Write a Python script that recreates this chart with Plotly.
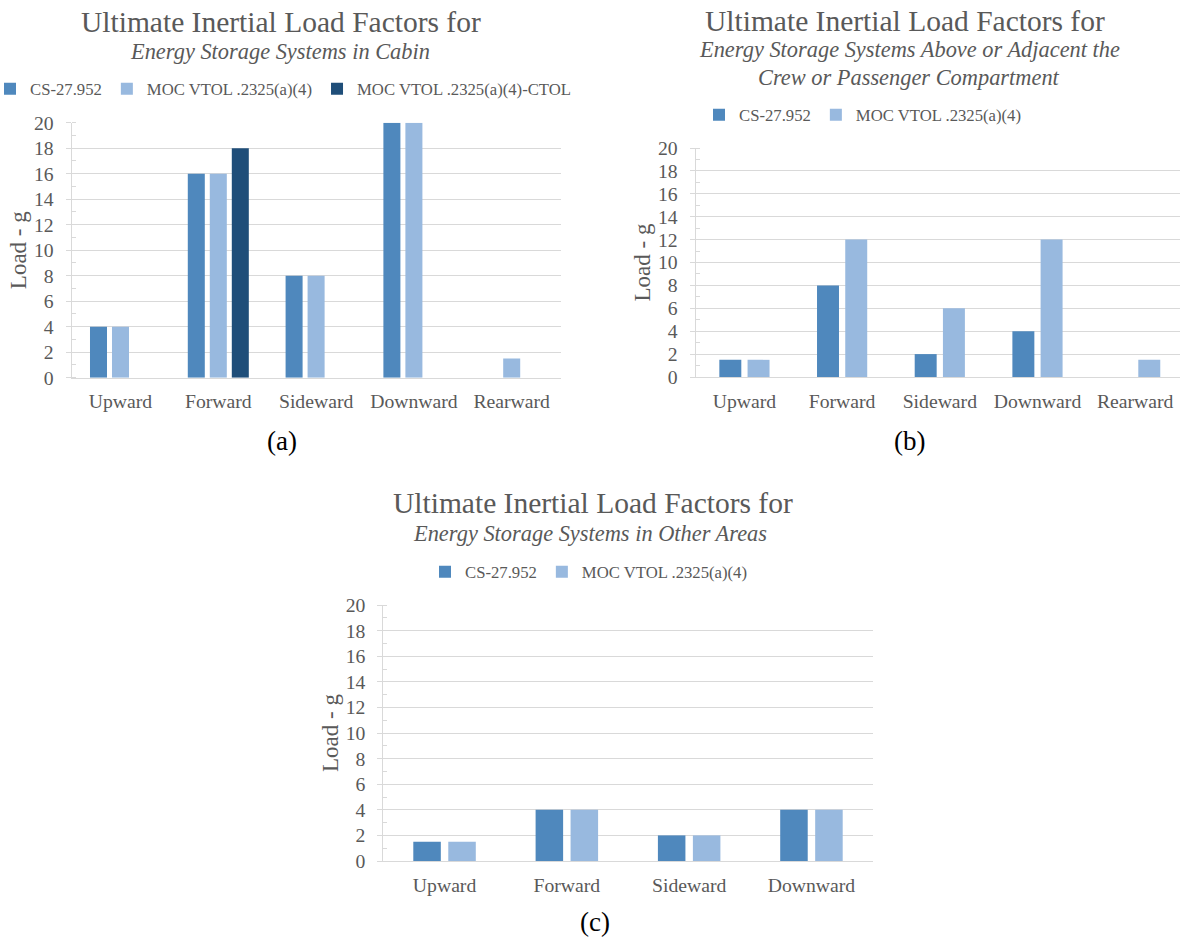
import plotly.graph_objects as go

# ---------------- data ----------------
categories_a = ["Upward", "Forward", "Sideward", "Downward", "Rearward"]
cs_a = [4, 16, 8, 20, None]
moc_a = [4, 16, 8, 20, 1.5]
ctol_a = [None, 18, None, None, None]

categories_b = ["Upward", "Forward", "Sideward", "Downward", "Rearward"]
cs_b = [1.5, 8, 2, 4, None]
moc_b = [1.5, 12, 6, 12, 1.5]

categories_c = ["Upward", "Forward", "Sideward", "Downward"]
cs_c = [1.5, 4, 2, 4]
moc_c = [1.5, 4, 2, 4]

series_names = ["CS-27.952", "MOC VTOL .2325(a)(4)", "MOC VTOL .2325(a)(4)-CTOL"]
y_tick_values = [0, 2, 4, 6, 8, 10, 12, 14, 16, 18, 20]

title_main = "Ultimate Inertial Load Factors for"
subtitle_a = "Energy Storage Systems in Cabin"
subtitle_b1 = "Energy Storage Systems Above or Adjacent the"
subtitle_b2 = "Crew or Passenger Compartment"
subtitle_c = "Energy Storage Systems in Other Areas"
y_title = "Load - g"
panel_labels = ["(a)", "(b)", "(c)"]

# ---------------- style ----------------
W, H = 1180, 941
FONT = "Liberation Serif, Times New Roman, serif"
GRAY = "#595959"
GRID = "#d9d9d9"
COLORS = ["#4f88bd", "#98b9df", "#1f4e79"]


def px_x(p):
    return p / W


def px_y(p):
    return 1 - p / H


fig = go.Figure()


def add_bars(cats, values, xa, ya, legend, slot, width):
    n = len(values)
    for i, vals in enumerate(values):
        center = (i - (n - 1) / 2) * slot if n == 2 else (i - 1) * slot
        fig.add_trace(go.Bar(
            x=cats, y=vals, name=series_names[i],
            marker=dict(color=COLORS[i], line=dict(width=0)),
            width=width, offset=center - width / 2,
            xaxis=xa, yaxis=ya, legend=legend,
        ))


add_bars(categories_a, [cs_a, moc_a, ctol_a], "x", "y", "legend", 0.225, 0.174)
add_bars(categories_b, [cs_b, moc_b], "x2", "y2", "legend2", 0.289, 0.225)
add_bars(categories_c, [cs_c, moc_c], "x3", "y3", "legend3", 0.286, 0.225)


def xaxis_style(domain, anchor, cats, rng):
    return dict(
        domain=domain, anchor=anchor, type="category",
        categoryorder="array", categoryarray=cats, range=rng,
        showline=True, linecolor=GRID, linewidth=1, showgrid=False,
        ticks="", ticklabelstandoff=6, automargin=False,
        tickfont=dict(family=FONT, size=19.7, color=GRAY),
        fixedrange=True,
    )


def yaxis_style(domain, anchor):
    return dict(
        domain=domain, anchor=anchor, range=[0, 20],
        tickmode="array", tickvals=y_tick_values,
        showgrid=True, gridcolor=GRID, gridwidth=1, zeroline=False,
        showline=True, linecolor=GRID, linewidth=1,
        ticks="outside", ticklen=5, tickcolor=GRID, tickwidth=1,
        ticklabelstandoff=8, automargin=False,
        minor=dict(dtick=1, ticks="inside", ticklen=4, tickcolor=GRID, showgrid=False),
        tickfont=dict(family=FONT, size=19.7, color=GRAY),
        title=dict(text=y_title, font=dict(family=FONT, size=23, color=GRAY), standoff=0),
        fixedrange=True,
    )


legend_common = dict(
    orientation="h", xanchor="center", yanchor="middle",
    font=dict(family=FONT, size=16.7, color=GRAY),
    itemwidth=30, bgcolor="rgba(0,0,0,0)", traceorder="normal",
)

fig.update_layout(
    width=W, height=H,
    margin=dict(l=0, r=0, t=0, b=0, autoexpand=False),
    paper_bgcolor="white", plot_bgcolor="white",
    barmode="overlay",
    showlegend=True,
    xaxis=xaxis_style([px_x(71.6), px_x(560.6)], "y", categories_a, [-0.5, 4.5]),
    yaxis=yaxis_style([px_y(377.7), px_y(122.7)], "x"),
    xaxis2=xaxis_style([px_x(695.6), 1.0], "y2", categories_b, [-0.5, 4.5 - 4 / 97.7]),
    yaxis2=yaxis_style([px_y(377), px_y(148)], "x2"),
    xaxis3=xaxis_style([px_x(383.4), px_x(872.6)], "y3", categories_c, [-0.5, 3.5]),
    yaxis3=yaxis_style([px_y(861), px_y(605)], "x3"),
    legend=dict(legend_common, x=px_x(283), y=px_y(89)),
    legend2=dict(legend_common, x=px_x(863), y=px_y(115)),
    legend3=dict(legend_common, x=px_x(589), y=px_y(572)),
)

annotations = []


def add_text(text, x, y, size, color=GRAY):
    annotations.append(dict(
        text=text, x=px_x(x), y=px_y(y), xref="paper", yref="paper",
        xanchor="center", yanchor="middle", showarrow=False,
        font=dict(family=FONT, size=size, color=color),
    ))


add_text(title_main, 281, 22, 29.5)
add_text("<i>" + subtitle_a + "</i>", 280, 52, 22.4)
add_text(title_main, 905, 21, 29.5)
add_text("<i>" + subtitle_b1 + "</i>", 909, 50, 22.4)
add_text("<i>" + subtitle_b2 + "</i>", 909, 77, 22.4)
add_text(title_main, 593, 503, 29.5)
add_text("<i>" + subtitle_c + "</i>", 590, 533, 22.4)
add_text(panel_labels[0], 282, 441, 27, "black")
add_text(panel_labels[1], 909, 441, 27, "black")
add_text(panel_labels[2], 595, 922, 27, "black")

fig.update_layout(annotations=annotations)

# drop the browser's default 8px body margin so the 1180x941 figure fills the window
fig.write_html(
    "out.html",
    config={"displayModeBar": False},
    post_script="document.body.style.margin='0px';",
)
